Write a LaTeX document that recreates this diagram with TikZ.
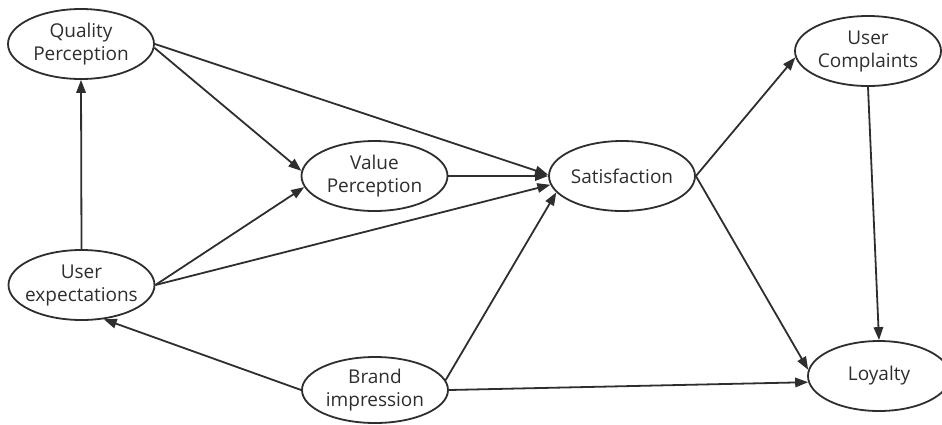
\documentclass[tikz,border=0pt]{standalone}
\usepackage{fontspec}
\setmainfont{Open Sans}
\usetikzlibrary{arrows.meta,shapes.geometric}
\definecolor{ink}{HTML}{2E2E2E}
\begin{document}
\begin{tikzpicture}[x=1pt,y=-1pt,
  concept/.style={ellipse,draw=ink,line width=1.8pt,fill=white,minimum width=146pt,minimum height=70pt,inner xsep=-8pt,inner ysep=0pt,align=center,text=ink,font=\fontsize{19}{23}\selectfont},
  link/.style={draw=ink,line width=1.8pt,-{Triangle[length=13pt,width=9.5pt]}}]
\useasboundingbox (0,0) rectangle (942,424);
\node[concept] (qp) at (81,44) {Quality\\Perception};
\node[concept] (ue) at (81.5,285) {User\\expectations};
\node[concept] (vp) at (374.5,176) {Value\\Perception};
\node[concept] (sat) at (622,176) {Satisfaction};
\node[concept] (uc) at (868,51) {User\\Complaints};
\node[concept,minimum width=142pt] (loy) at (879,376) {Loyalty};
\node[concept,minimum height=66pt] (bi) at (375,390) {Brand\\impression};
\draw[link] (ue.north) -- (qp.south);
\draw[link] (qp.-3) -- (vp.176);
\draw[link] (qp.east) -- (sat.179);
\draw[link] (ue.east) -- (vp.189);
\draw[link] (ue.east) -- (sat.187);
\draw[link] (vp.east) -- (sat.180);
\draw[link] (bi.west) -- (ue.303);
\draw[link] (bi.8) -- (sat.194);
\draw[link] (bi.east) -- (loy.185);
\draw[link] (sat.east) -- (uc.185);
\draw[link] (sat.east) -- (loy.175);
\draw[link] (uc.south) -- (loy.north);
\end{tikzpicture}
\end{document}
